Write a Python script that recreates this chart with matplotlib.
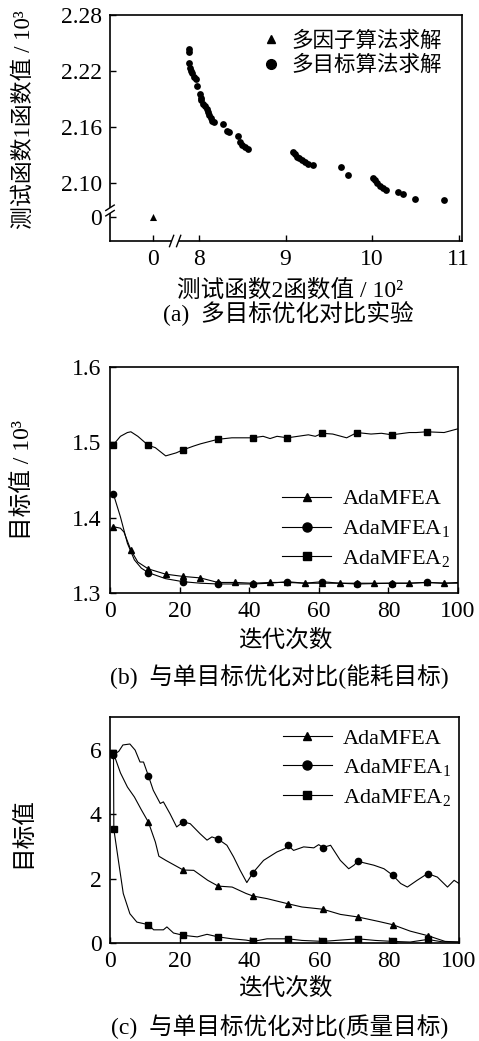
import matplotlib
matplotlib.use("Agg")
import matplotlib.pyplot as plt
from matplotlib.lines import Line2D
from matplotlib.patches import Rectangle

plt.rcParams['font.family'] = ['Liberation Serif', 'Noto Sans CJK SC']
plt.rcParams['mathtext.fontset'] = 'stix'
plt.rcParams['axes.linewidth'] = 1.2

# ---------------- data: panel (a) ----------------
mo_x = [7.884, 7.884, 7.884, 7.896, 7.904, 7.923, 7.942, 7.965, 7.981, 8.012, 8.019, 8.027,
        8.042, 8.066, 8.089, 8.108, 8.119, 8.135, 8.150, 8.177, 8.281, 8.320, 8.351, 8.447,
        8.474, 8.501, 8.532, 8.570, 9.091, 9.110, 9.129, 9.156, 9.187, 9.225, 9.264, 9.322,
        9.638, 9.726, 10.015, 10.035, 10.054, 10.092, 10.131, 10.158, 10.304, 10.362,
        10.497, 10.836]
mo_y = [2.2432, 2.2407, 2.2289, 2.2229, 2.2204, 2.2175, 2.2139, 2.2111, 2.2039, 2.1950,
        2.1914, 2.1889, 2.1843, 2.1825, 2.1789, 2.1764, 2.1729, 2.1693, 2.1668, 2.1654,
        2.1629, 2.1557, 2.1543, 2.1504, 2.1443, 2.1407, 2.1382, 2.1361, 2.1336, 2.1311,
        2.1282, 2.1264, 2.1246, 2.1221, 2.1207, 2.1193, 2.1175, 2.1086, 2.1057, 2.1032,
        2.1004, 2.0971, 2.0943, 2.0925, 2.0907, 2.0882, 2.0829, 2.0814]
mf_x = [0.0]
mf_y = [0.0]
a_xticks = [0, 8, 9, 10, 11]
a_yticks = [0, 2.10, 2.16, 2.22, 2.28]
a_ytick_labels = ['0', '2.10', '2.16', '2.22', '2.28']

# ---------------- data: panel (b) ----------------
b_tri_lx = [1, 3, 4, 6, 8, 11, 16, 21, 26, 31, 36, 41, 46, 51, 56, 61, 66, 71, 76, 81, 86, 91, 96, 100]
b_tri_ly = [1.388, 1.386, 1.381, 1.357, 1.341, 1.332, 1.325, 1.322, 1.320, 1.314, 1.314, 1.313,
            1.314, 1.314, 1.313, 1.313, 1.313, 1.313, 1.313, 1.313, 1.313, 1.314, 1.313, 1.313]
b_tri_mx = [1, 6, 11, 16, 21, 26, 31, 36, 41, 46, 51, 56, 61, 66, 71, 76, 81, 86, 91, 96]
b_tri_my = [1.388, 1.357, 1.332, 1.325, 1.322, 1.320, 1.314, 1.314, 1.313, 1.314, 1.314, 1.313,
            1.313, 1.313, 1.313, 1.313, 1.313, 1.313, 1.314, 1.313]

b_cir_lx = [1, 3, 5, 7, 9, 11, 16, 21, 26, 31, 41, 46, 51, 56, 61, 66, 71, 81, 86, 91, 96, 100]
b_cir_ly = [1.431, 1.401, 1.366, 1.344, 1.333, 1.327, 1.319, 1.315, 1.313, 1.312, 1.312, 1.313,
            1.315, 1.313, 1.315, 1.313, 1.312, 1.313, 1.313, 1.314, 1.313, 1.314]
b_cir_mx = [1, 11, 21, 31, 41, 51, 61, 71, 81, 91]
b_cir_my = [1.431, 1.327, 1.315, 1.312, 1.312, 1.315, 1.315, 1.312, 1.312, 1.314]

b_sq_lx = [1, 3, 5, 6, 8, 11, 13, 16, 19, 21, 24, 26, 31, 35, 38, 41, 44, 46, 48, 51, 54,
           57, 59, 61, 64, 68, 71, 75, 78, 81, 86, 88, 91, 96, 100]
b_sq_ly = [1.497, 1.508, 1.513, 1.514, 1.508, 1.496, 1.493, 1.482, 1.486, 1.490, 1.495, 1.498,
           1.504, 1.506, 1.506, 1.506, 1.508, 1.505, 1.508, 1.506, 1.508, 1.510, 1.508, 1.512,
           1.511, 1.506, 1.513, 1.511, 1.512, 1.510, 1.513, 1.513, 1.514, 1.513, 1.518]
b_sq_mx = [1, 11, 21, 31, 41, 51, 61, 71, 81, 91]
b_sq_my = [1.497, 1.496, 1.490, 1.504, 1.506, 1.506, 1.512, 1.513, 1.510, 1.514]

# ---------------- data: panel (c) ----------------
c_tri_lx = [1, 3, 5, 7, 9, 11, 13, 14, 16, 21, 24, 28, 31, 35, 39, 41, 45, 51, 55, 61,
            66, 71, 77, 81, 86, 91, 96, 100]
c_tri_ly = [5.9, 5.29, 4.85, 4.54, 4.14, 3.76, 3.14, 2.7, 2.57, 2.27, 2.26, 1.95, 1.77,
            1.74, 1.54, 1.46, 1.38, 1.22, 1.12, 1.05, 0.89, 0.81, 0.67, 0.57, 0.37, 0.23,
            0.05, 0.03]
c_tri_mx = [11, 21, 31, 41, 51, 61, 71, 81, 91]
c_tri_my = [3.76, 2.27, 1.77, 1.46, 1.22, 1.05, 0.81, 0.57, 0.23]

c_cir_lx = [1, 2.5, 3.7, 5.7, 7.2, 8.6, 9.6, 11, 12.4, 14.4, 15.3, 17.2, 19.1, 21, 23, 25.8,
            27.8, 29.2, 31, 33.5, 35.4, 37.3, 39.2, 41, 44, 47.8, 50.2, 51, 52.6, 55.5, 58.4,
            59.8, 61, 63.2, 66, 68.4, 69.9, 71, 75.6, 78.5, 81, 83.3, 85.2, 88, 91, 93.8,
            96.7, 98.6, 100]
c_cir_ly = [5.86, 5.96, 6.16, 6.19, 6.0, 5.63, 5.63, 5.2, 4.75, 4.34, 4.39, 4.02, 3.61, 3.77,
            3.71, 3.4, 3.2, 3.3, 3.23, 3.04, 2.68, 2.26, 1.88, 2.19, 2.57, 2.83, 2.94, 3.04,
            2.88, 2.99, 2.96, 3.06, 2.97, 3.04, 2.57, 2.31, 2.42, 2.54, 2.42, 2.31, 2.11,
            1.85, 1.74, 1.95, 2.16, 2.05, 1.74, 1.95, 1.85]
c_cir_mx = [1, 11, 21, 31, 41, 51, 61, 71, 81, 91]
c_cir_my = [5.86, 5.2, 3.77, 3.23, 2.19, 3.04, 2.97, 2.54, 2.11, 2.16]

c_sq_lx = [1, 1.1, 2.4, 3.8, 5.7, 7.7, 11, 12.5, 15.3, 16.3, 18.2, 21, 25, 27.8, 31, 35, 39,
           41, 45, 51, 55, 61, 66, 71, 76, 81, 86, 91, 95, 100]
c_sq_ly = [5.9, 3.54, 2.57, 1.54, 0.91, 0.65, 0.57, 0.41, 0.41, 0.5, 0.31, 0.24, 0.19, 0.27,
           0.19, 0.13, 0.09, 0.05, 0.13, 0.13, 0.08, 0.05, 0.09, 0.13, 0.08, 0.05, 0.03,
           0.11, 0.04, 0.03]
c_sq_mx = [1, 1.1, 11, 21, 31, 41, 51, 61, 71, 81, 91]
c_sq_my = [5.9, 3.54, 0.57, 0.24, 0.19, 0.05, 0.13, 0.05, 0.13, 0.05, 0.11]

series_names = ['AdaMFEA', r'AdaMFEA$_{\mathregular{1}}$', r'AdaMFEA$_{\mathregular{2}}$']
iter_ticks = [0, 20, 40, 60, 80, 100]

# ---------------- figure ----------------
W, H = 479, 1041
fig = plt.figure(figsize=(W / 100, H / 100), dpi=100)

def frac_axes(l, t, r, b):
    return fig.add_axes([l / W, 1 - b / H, (r - l) / W, (b - t) / H])

TICK_FS = 17
CJK_FS = 17

def style(ax):
    ax.tick_params(direction='in', length=4, width=1.0, labelsize=TICK_FS, pad=6)

# broken-axis mapping for panel (a)
X_ZERO_POS = 7.468
Y_ZERO_POS = 2.0636
def map_x(v):
    return [X_ZERO_POS + x if x < 5 else x for x in v]
def map_y(v):
    return [Y_ZERO_POS + y if y < 1 else y for y in v]

# ---- panel (a)
axa = frac_axes(110, 15, 462, 241)
style(axa)
axa.scatter(map_x(mf_x), map_y(mf_y), marker='^', s=26, color='black', lw=0, zorder=3)
axa.scatter(mo_x, mo_y, marker='o', s=24, color='black', lw=0, zorder=3)
axa.set_xlim(6.97, 11.04)
axa.set_ylim(2.0379, 2.28)
axa.set_xticks(map_x(a_xticks))
axa.set_xticklabels([str(t) for t in a_xticks])
axa.set_yticks(map_y(a_yticks))
axa.set_yticklabels(a_ytick_labels)
la = [Line2D([], [], ls='none', marker='^', color='black', markersize=6),
      Line2D([], [], ls='none', marker='o', color='black', markersize=7)]
axa.legend(la, ['多因子算法求解', '多目标算法求解'], loc='upper right',
           bbox_to_anchor=(0.98, 0.985), frameon=False, fontsize=15.5,
           handlelength=1.0, handletextpad=0.45, labelspacing=0.2, borderaxespad=0.2)
# axis breaks
yb = 0.135
axa.add_patch(Rectangle((-0.02, yb - 0.012), 0.04, 0.024, transform=axa.transAxes,
                        facecolor='white', edgecolor='none', clip_on=False, zorder=5))
for dy in (-0.012, 0.012):
    axa.plot([-0.012, 0.012], [yb + dy - 0.012, yb + dy + 0.012], color='black', lw=1.0,
             transform=axa.transAxes, clip_on=False, zorder=6)
xb = 0.185
axa.add_patch(Rectangle((xb - 0.01, -0.02), 0.02, 0.04, transform=axa.transAxes,
                        facecolor='white', edgecolor='none', clip_on=False, zorder=5))
for dx in (-0.01, 0.01):
    axa.plot([xb + dx - 0.006, xb + dx + 0.006], [-0.025, 0.025], color='black', lw=1.0,
             transform=axa.transAxes, clip_on=False, zorder=6)

fig.text(290 / W, 1 - 291 / H, '测试函数2函数值 / 10²', ha='center', va='center', fontsize=CJK_FS)
fig.text(24 / W, 1 - 120 / H, '测试函数1函数值 / 10³', ha='center', va='center',
         rotation=90, fontsize=16.5)
fig.text(288 / W, 1 - 313 / H, '(a)  多目标优化对比实验', ha='center', va='center', fontsize=CJK_FS)

# ---- panel (b)
def draw_series(ax, lx, ly, mx, my, marker, ms):
    ax.plot(lx, ly, color='black', lw=0.8, zorder=2)
    ax.plot(mx, my, ls='none', marker=marker, color='black', markersize=ms, zorder=3)

axb = frac_axes(110, 367, 458, 593)
style(axb)
draw_series(axb, b_tri_lx, b_tri_ly, b_tri_mx, b_tri_my, '^', 4.5)
draw_series(axb, b_cir_lx, b_cir_ly, b_cir_mx, b_cir_my, 'o', 4.5)
draw_series(axb, b_sq_lx, b_sq_ly, b_sq_mx, b_sq_my, 's', 4)
axb.set_xlim(0, 100)
axb.set_ylim(1.3, 1.6)
axb.set_xticks(iter_ticks)
axb.set_yticks([1.3, 1.4, 1.5, 1.6])

def legend_handles():
    return [Line2D([], [], color='black', lw=0.8, marker='^', markersize=6),
            Line2D([], [], color='black', lw=0.8, marker='o', markersize=6.5),
            Line2D([], [], color='black', lw=0.8, marker='s', markersize=6)]

axb.legend(legend_handles(), series_names, loc='lower left', bbox_to_anchor=(0.47, 0.066),
           frameon=False, fontsize=16, handlelength=2.2, handletextpad=0.5,
           labelspacing=0.4, borderaxespad=0)
fig.text(285 / W, 1 - 641 / H, '迭代次数', ha='center', va='center', fontsize=CJK_FS)
fig.text(24 / W, 1 - 480 / H, '目标值 / 10³', ha='center', va='center', rotation=90,
         fontsize=CJK_FS)
fig.text(279 / W, 1 - 677 / H, '(b)  与单目标优化对比(能耗目标)', ha='center', va='center',
         fontsize=CJK_FS)

# ---- panel (c)
axc = frac_axes(110, 717, 459, 943)
style(axc)
draw_series(axc, c_tri_lx, c_tri_ly, c_tri_mx, c_tri_my, '^', 4.5)
draw_series(axc, c_cir_lx, c_cir_ly, c_cir_mx, c_cir_my, 'o', 4.5)
draw_series(axc, c_sq_lx, c_sq_ly, c_sq_mx, c_sq_my, 's', 4)
axc.set_xlim(0, 100)
axc.set_ylim(0, 7.03)
axc.set_xticks(iter_ticks)
axc.set_yticks([0, 2, 4, 6])
axc.legend(legend_handles(), series_names, loc='upper left', bbox_to_anchor=(0.47, 0.99),
           frameon=False, fontsize=16, handlelength=2.2, handletextpad=0.5,
           labelspacing=0.38, borderaxespad=0)
fig.text(285 / W, 1 - 989 / H, '迭代次数', ha='center', va='center', fontsize=CJK_FS)
fig.text(24 / W, 1 - 833 / H, '目标值', ha='center', va='center', rotation=90, fontsize=CJK_FS)
fig.text(280 / W, 1 - 1027 / H, '(c)  与单目标优化对比(质量目标)', ha='center', va='center',
         fontsize=CJK_FS)

fig.savefig('out.png', dpi=100)
